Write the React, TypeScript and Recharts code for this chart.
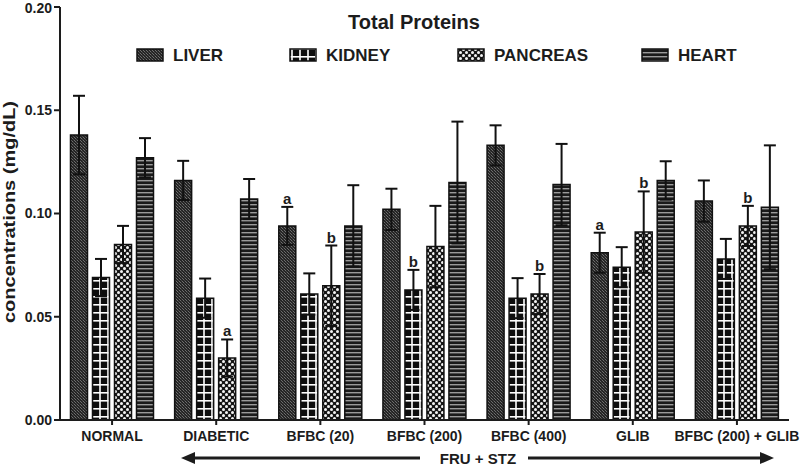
import React from 'react';
import { BarChart, Bar, XAxis, YAxis, ErrorBar, LabelList } from 'recharts';

const categories = ['NORMAL', 'DIABETIC', 'BFBC (20)', 'BFBC (200)', 'BFBC (400)', 'GLIB', 'BFBC (200) + GLIB'];
const liver = [0.138, 0.116, 0.094, 0.102, 0.133, 0.081, 0.106];
const liverErr = [0.019, 0.0095, 0.0092, 0.01, 0.0097, 0.0097, 0.01];
const kidney = [0.069, 0.059, 0.061, 0.063, 0.059, 0.074, 0.078];
const kidneyErr = [0.009, 0.0095, 0.01, 0.0097, 0.0097, 0.0097, 0.0097];
const pancreas = [0.085, 0.030, 0.065, 0.084, 0.061, 0.091, 0.094];
const pancreasErr = [0.009, 0.009, 0.0195, 0.0197, 0.0097, 0.0197, 0.0097];
const heart = [0.127, 0.107, 0.094, 0.115, 0.114, 0.116, 0.103];
const heartErr = [0.0095, 0.0097, 0.0197, 0.0295, 0.0197, 0.0093, 0.03];
const liverSig = ['', '', 'a', '', '', 'a', ''];
const kidneySig = ['', '', '', 'b', '', '', ''];
const pancreasSig = ['', 'a', 'b', '', 'b', 'b', 'b'];
const heartSig = ['', '', '', '', '', '', ''];
const yTicks = [0, 0.05, 0.1, 0.15, 0.2];

const series = [
  { key: 'LIVER', vals: liver, errs: liverErr, sig: liverSig, pattern: 'pLiver' },
  { key: 'KIDNEY', vals: kidney, errs: kidneyErr, sig: kidneySig, pattern: 'pKidney' },
  { key: 'PANCREAS', vals: pancreas, errs: pancreasErr, sig: pancreasSig, pattern: 'pPancreas' },
  { key: 'HEART', vals: heart, errs: heartErr, sig: heartSig, pattern: 'pHeart' },
];

const data = categories.map((c, i) => {
  const row: any = { name: c };
  series.forEach((s) => {
    row[s.key] = s.vals[i];
    row[s.key + '_err'] = s.errs[i];
    row[s.key + '_sig'] = s.sig[i];
  });
  return row;
});

const FONT = '"Liberation Sans", Arial, sans-serif';
const INK = '#1c1c1c';

const legendSwatchX = [137, 290, 458, 642];

const makeSigLabel = (s: any) => (props: any) => {
  const { x, y, width, height, index, value } = props;
  if (!value) return null;
  const v = s.vals[index];
  const e = s.errs[index];
  const errPx = (Number(height) * e) / v;
  return (
    <text x={Number(x) + Number(width) / 2} y={Number(y) - errPx - 3} textAnchor="middle"
      fontFamily={FONT} fontWeight="bold" fontSize={15} fill={INK}>{value}</text>
  );
};

const XTick = (props: any) => {
  const { x, y, payload } = props;
  return (
    <text x={x} y={y} dy={13} textAnchor="middle" fontFamily={FONT} fontWeight="bold" fontSize={14} fill={INK}>
      {payload.value}
    </text>
  );
};

export default function App() {
  return (
    <div style={{ position: 'absolute', left: 0, top: 0, width: 800, height: 468, background: '#fff' }}>
      <svg width={0} height={0} style={{ position: 'absolute' }}>
        <defs>
          <pattern id="pLiver" width="3" height="3" patternUnits="userSpaceOnUse">
            <rect width="3" height="3" fill="#252525" />
            <rect x="0" y="0" width="1" height="1" fill="#6e6e6e" />
            <rect x="1" y="1" width="1" height="1" fill="#4a4a4a" />
            <rect x="2" y="2" width="1" height="1" fill="#6e6e6e" />
          </pattern>
          <pattern id="pKidney" width="8" height="8" patternUnits="userSpaceOnUse">
            <rect width="8" height="8" fill="#0e0e0e" />
            <rect x="0" y="0" width="8" height="1.6" fill="#fff" />
            <rect x="3.2" y="0" width="1.6" height="8" fill="#fff" />
          </pattern>
          <pattern id="pPancreas" width="6" height="6" patternUnits="userSpaceOnUse">
            <rect width="6" height="6" fill="#151515" />
            <circle cx="1.5" cy="1.5" r="1.5" fill="#f4f4f4" />
            <circle cx="4.5" cy="4.5" r="1.5" fill="#f4f4f4" />
          </pattern>
          <pattern id="pHeart" width="4" height="4" patternUnits="userSpaceOnUse">
            <rect width="4" height="4" fill="#1a1a1a" />
            <rect x="0" y="0" width="4" height="1.4" fill="#9a9a9a" />
          </pattern>
        </defs>
      </svg>
      <BarChart width={800} height={468} data={data}
        margin={{ top: 7, right: 11, bottom: 18, left: 0 }}
        barCategoryGap={10.5} barGap={5}>
        <XAxis dataKey="name" height={30} tickSize={5} tickMargin={3}
          axisLine={{ stroke: INK, strokeWidth: 2 }} tickLine={{ stroke: INK, strokeWidth: 2 }}
          tick={<XTick />} interval={0} />
        <YAxis width={60} domain={[0, 0.2]} ticks={yTicks} tickSize={6} tickMargin={2}
          tickFormatter={(v: number) => v.toFixed(2)}
          axisLine={{ stroke: INK, strokeWidth: 2 }} tickLine={{ stroke: INK, strokeWidth: 2 }}
          tick={{ fontFamily: FONT, fontWeight: 'bold', fontSize: 14, fill: INK }} />
        {series.map((s) => (
          <Bar key={s.key} dataKey={s.key} fill={`url(#${s.pattern})`} stroke="#111" strokeWidth={1.5}
            isAnimationActive={false}>
            <ErrorBar dataKey={s.key + '_err'} width={6} strokeWidth={2} stroke="#111" direction="y" />
            <LabelList dataKey={s.key + '_sig'} content={makeSigLabel(s)} />
          </Bar>
        ))}
      </BarChart>
      <svg width={800} height={468} style={{ position: 'absolute', left: 0, top: 0, pointerEvents: 'none' }}>
        <text x={414} y={29} textAnchor="middle" fontFamily={FONT} fontWeight="bold" fontSize={20} fill={INK}>Total Proteins</text>
        {series.map((s, i) => (
          <g key={s.key}>
            <rect x={legendSwatchX[i]} y={49} width={26} height={12} fill={`url(#${s.pattern})`} stroke="#111" strokeWidth={1.5} />
            <text x={legendSwatchX[i] + 36} y={61} fontFamily={FONT} fontWeight="bold" fontSize={17} fill={INK}>{s.key}</text>
          </g>
        ))}
        <text transform="translate(15,212) rotate(-90)" textAnchor="middle" fontFamily={FONT} fontWeight="bold"
          fontSize={16} fill={INK} textLength={222} lengthAdjust="spacingAndGlyphs">concentrations (mg/dL)</text>
        <line x1={193} y1={458} x2={420} y2={458} stroke={INK} strokeWidth={3} />
        <polygon points="181,458 195,452 195,464" fill={INK} />
        <line x1={528} y1={458} x2={762} y2={458} stroke={INK} strokeWidth={3} />
        <polygon points="774,458 760,452 760,464" fill={INK} />
        <text x={478} y={464} textAnchor="middle" fontFamily={FONT} fontWeight="bold" fontSize={15} fill={INK}>FRU + STZ</text>
      </svg>
    </div>
  );
}
